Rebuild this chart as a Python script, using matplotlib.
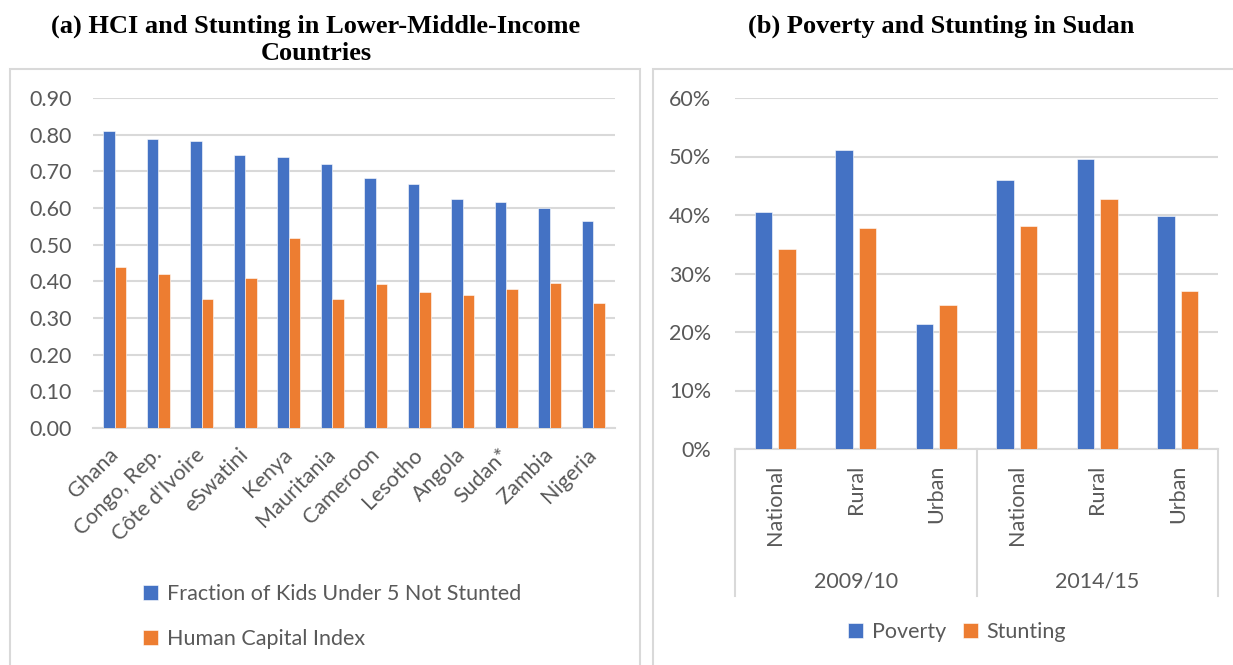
import matplotlib
matplotlib.use('Agg')
import matplotlib.pyplot as plt
from matplotlib.patches import Rectangle
from matplotlib.ticker import FuncFormatter
from matplotlib.transforms import blended_transform_factory

# panel (a) data
countries = ['Ghana', 'Congo, Rep.', "Côte d'Ivoire", 'eSwatini', 'Kenya', 'Mauritania',
             'Cameroon', 'Lesotho', 'Angola', 'Sudan*', 'Zambia', 'Nigeria']
not_stunted = [0.811, 0.788, 0.783, 0.744, 0.739, 0.720, 0.683, 0.666, 0.625, 0.617, 0.601, 0.564]
hci = [0.438, 0.419, 0.353, 0.408, 0.517, 0.352, 0.393, 0.371, 0.362, 0.379, 0.395, 0.341]

# panel (b) data
areas = ['National', 'Rural', 'Urban', 'National', 'Rural', 'Urban']
years = ['2009/10', '2014/15']
poverty = [40.5, 51.1, 21.3, 46.0, 49.5, 39.8]
stunting = [34.2, 37.8, 24.6, 38.2, 42.8, 27.0]

BLUE = '#4472C4'
ORANGE = '#ED7D31'
GRID = '#D9D9D9'
TXT = '#595959'
W, H = 1233, 665
FS = 15.5

plt.rcParams['font.family'] = ['Lato', 'DejaVu Sans']
plt.rcParams['font.size'] = FS

fig = plt.figure(figsize=(W / 100, H / 100), dpi=100)


def fx(px):
    return px / W


def fy(py):
    return 1 - py / H


# panel frames
fig.patches.append(Rectangle((fx(10), fy(700)), fx(640) - fx(10), fy(69) - fy(700),
                             transform=fig.transFigure, fill=False, ec=GRID, lw=1.5))
fig.patches.append(Rectangle((fx(653), fy(700)), fx(1240) - fx(653), fy(69) - fy(700),
                             transform=fig.transFigure, fill=False, ec=GRID, lw=1.5))

tfont = dict(family=['Liberation Serif', 'DejaVu Serif'], fontweight='bold', fontsize=19, color='black')
fig.text(fx(316), fy(26), '(a) HCI and Stunting in Lower-Middle-Income', ha='center', va='center', **tfont)
fig.text(fx(316), fy(54), 'Countries', ha='center', va='center', **tfont)
fig.text(fx(941), fy(26), '(b) Poverty and Stunting in Sudan', ha='center', va='center', **tfont)

# ---- panel (a)
ax1 = fig.add_axes([fx(93), fy(428), fx(615) - fx(93), fy(98) - fy(428)])
x = range(len(countries))
bw = 0.27
ax1.bar([i - bw / 2 for i in x], not_stunted, bw, color=BLUE, ec='white', lw=0.4,
        label='Fraction of Kids Under 5 Not Stunted', zorder=3)
ax1.bar([i + bw / 2 for i in x], hci, bw, color=ORANGE, ec='white', lw=0.4,
        label='Human Capital Index', zorder=3)
ax1.set_xlim(-0.5, len(countries) - 0.5)
ax1.set_ylim(0, 0.9)
ax1.set_yticks([i / 10 for i in range(10)])
ax1.yaxis.set_major_formatter(FuncFormatter(lambda v, p: '%.2f' % v))
ax1.set_xticks(list(x))
ax1.set_xticklabels(countries, rotation=45, ha='right', va='center', rotation_mode='anchor')
ax1.tick_params(axis='both', length=0, colors=TXT, labelsize=FS)
ax1.tick_params(axis='y', pad=15)
ax1.tick_params(axis='x', pad=17)
ax1.grid(axis='y', color=GRID, lw=1.5, zorder=0)
for s in ['top', 'right', 'left']:
    ax1.spines[s].set_visible(False)
ax1.spines['bottom'].set_color(GRID)
ax1.spines['bottom'].set_linewidth(1.5)

h1, l1 = ax1.get_legend_handles_labels()
fig.legend(h1, l1, loc='upper left', bbox_to_anchor=(fx(124), fy(565)), frameon=False,
           handlelength=0.7, handleheight=0.7, handletextpad=0.4, labelspacing=1.15,
           fontsize=FS, labelcolor=TXT)

# ---- panel (b)
ax2 = fig.add_axes([fx(735), fy(449), fx(1218) - fx(735), fy(98) - fy(449)])
x2 = range(len(areas))
bw2 = 0.22
off = 0.145
ax2.bar([i - off for i in x2], poverty, bw2, color=BLUE, ec='white', lw=0.4, label='Poverty', zorder=3)
ax2.bar([i + off for i in x2], stunting, bw2, color=ORANGE, ec='white', lw=0.4, label='Stunting', zorder=3)
ax2.set_xlim(-0.5, len(areas) - 0.5)
ax2.set_ylim(0, 60)
ax2.set_yticks(range(0, 61, 10))
ax2.yaxis.set_major_formatter(FuncFormatter(lambda v, p: '%d%%' % v))
ax2.set_xticks(list(x2))
ax2.set_xticklabels(areas, rotation=90)
ax2.tick_params(axis='both', length=0, colors=TXT, labelsize=FS)
ax2.tick_params(axis='y', pad=17)
ax2.tick_params(axis='x', pad=11)
ax2.grid(axis='y', color=GRID, lw=1.5, zorder=0)
for s in ['top', 'right', 'left']:
    ax2.spines[s].set_visible(False)
ax2.spines['bottom'].set_color(GRID)
ax2.spines['bottom'].set_linewidth(1.5)

tr = blended_transform_factory(ax2.transData, ax2.transAxes)
ax_h = fy(98) - fy(449)
low = -(596 - 449) / H / ax_h
for xs in [-0.5, 2.5, 5.5]:
    ax2.plot([xs, xs], [0, low], transform=tr, color=GRID, lw=1.5, clip_on=False)
for k, yr in enumerate(years):
    ax2.text(3 * k + 1, -(582 - 449) / H / ax_h, yr, transform=tr, ha='center', va='center',
             fontsize=FS, color=TXT)

h2, l2 = ax2.get_legend_handles_labels()
fig.legend(h2, l2, loc='center', bbox_to_anchor=(fx(957), fy(632)), ncol=2, frameon=False,
           handlelength=0.7, handleheight=0.7, handletextpad=0.4, columnspacing=0.8,
           fontsize=FS, labelcolor=TXT)

plt.savefig('out.png', dpi=100)
